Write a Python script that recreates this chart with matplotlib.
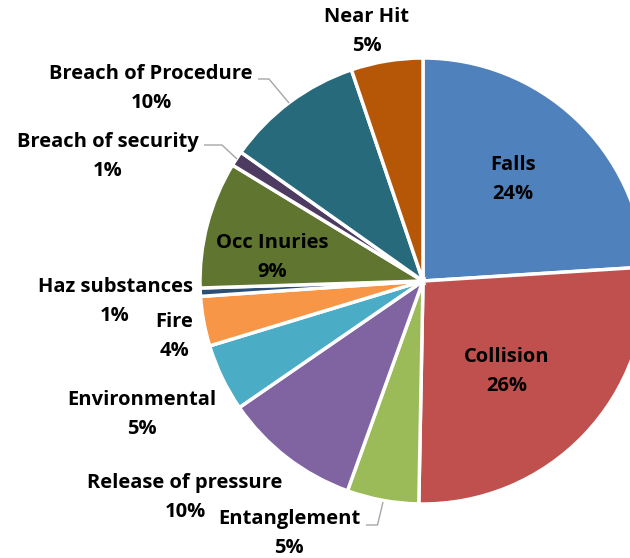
import matplotlib
matplotlib.use("Agg")
import matplotlib.pyplot as plt

categories = ["Falls", "Collision", "Entanglement", "Release of pressure",
              "Environmental", "Fire", "Haz substances", "Occ Inuries",
              "Breach of security", "Breach of Procedure", "Near Hit"]
values = [24.0, 26.3, 5.2, 9.9, 4.9, 3.6, 0.6, 9.2, 1.1, 10.0, 5.2]
colors = ["#4F81BD", "#C0504D", "#9BBB59", "#8064A2", "#4BACC6", "#F79646",
          "#2C4D75", "#5F7530", "#4D3B62", "#276A7C", "#B65708"]

W, H = 630, 558
fig = plt.figure(figsize=(W / 100, H / 100), dpi=100)
ax = fig.add_axes([0, 0, 1, 1])

cx, cy, R = 423, H - 281, 223
ax.pie(values, colors=colors, startangle=90, counterclock=False,
       center=(cx, cy), radius=R,
       wedgeprops=dict(edgecolor="white", linewidth=2.5))
ax.set_xlim(0, W)
ax.set_ylim(0, H)
ax.set_aspect("equal")
ax.axis("off")

# label anchor: (centre x, baseline y of first line) in pixels from top-left
label_pos = {
    "Falls": (513, 170),
    "Collision": (507, 362),
    "Entanglement": (289, 524),
    "Release of pressure": (185, 488),
    "Environmental": (142, 405),
    "Fire": (174, 327),
    "Haz substances": (115, 292),
    "Occ Inuries": (272, 248),
    "Breach of security": (108, 147),
    "Breach of Procedure": (151, 79),
    "Near Hit": (367, 22),
}
line_gap = 29

font = dict(family=["Open Sans", "DejaVu Sans"], weight="bold", size=14.5, color="black")
for name, v in zip(categories, values):
    x, y = label_pos[name]
    ax.text(x, H - y, name, ha="center", va="baseline", **font)
    ax.text(x, H - y - line_gap, f"{round(v):d}%", ha="center", va="baseline", **font)

# leader lines
leaders = [
    [(258, 79), (269, 79), (289, 103)],
    [(204, 145), (222, 145), (237, 159)],
    [(366, 525), (377.5, 525), (383, 502)],
]
for pts in leaders:
    xs = [p[0] for p in pts]
    ys = [H - p[1] for p in pts]
    ax.plot(xs, ys, color="#A6A6A6", linewidth=1.0, solid_capstyle="butt")

fig.savefig("out.png", dpi=100)
